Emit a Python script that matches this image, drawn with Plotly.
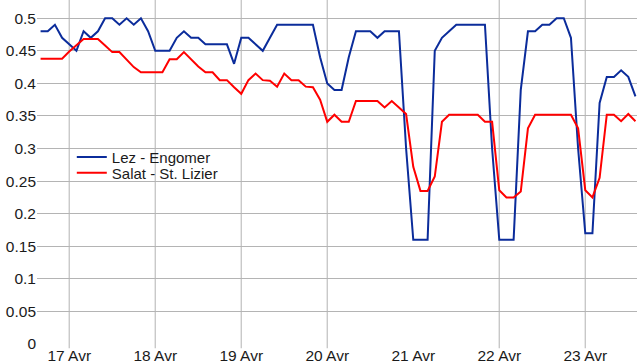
import pandas as pd
import plotly.graph_objects as go

# ---- data -------------------------------------------------------------
start_time = "2013-04-16 16:00"
step = "2h"

lez_engomer = [
    0.48, 0.48, 0.49, 0.47, 0.46, 0.45, 0.48, 0.47, 0.48, 0.50, 0.50, 0.49, 0.50, 0.49,
    0.50, 0.48, 0.45, 0.45, 0.45, 0.47, 0.48, 0.47, 0.47, 0.46, 0.46, 0.46, 0.46, 0.43,
    0.47, 0.47, 0.46, 0.45, 0.47, 0.49, 0.49, 0.49, 0.49, 0.49, 0.49, 0.44, 0.40, 0.39,
    0.39, 0.44, 0.48, 0.48, 0.48, 0.47, 0.48, 0.48, 0.48, 0.30, 0.16, 0.16, 0.16, 0.45,
    0.47, 0.48, 0.49, 0.49, 0.49, 0.49, 0.49, 0.30, 0.16, 0.16, 0.16, 0.39, 0.48, 0.48,
    0.49, 0.49, 0.50, 0.50, 0.47, 0.30, 0.17, 0.17, 0.37, 0.41, 0.41, 0.42, 0.41, 0.38,
]

salat_st_lizier = [
    0.438, 0.438, 0.438, 0.438, 0.449, 0.459, 0.468, 0.468, 0.468, 0.458, 0.448, 0.448, 0.436, 0.425,
    0.417, 0.417, 0.417, 0.417, 0.437, 0.437, 0.448, 0.437, 0.426, 0.417, 0.417, 0.405, 0.405, 0.394,
    0.384, 0.405, 0.415, 0.405, 0.404, 0.395, 0.415, 0.405, 0.405, 0.395, 0.394, 0.375, 0.341, 0.352,
    0.341, 0.341, 0.373, 0.373, 0.373, 0.373, 0.363, 0.373, 0.363, 0.353, 0.272, 0.235, 0.235, 0.257,
    0.341, 0.352, 0.352, 0.352, 0.352, 0.352, 0.341, 0.341, 0.236, 0.225, 0.225, 0.234, 0.331, 0.352,
    0.352, 0.352, 0.352, 0.352, 0.352, 0.331, 0.236, 0.225, 0.255, 0.352, 0.352, 0.342, 0.353, 0.342,
]

series_names = ["Lez - Engomer", "Salat - St. Lizier"]

tick_dates = ["2013-04-17", "2013-04-18", "2013-04-19", "2013-04-20",
              "2013-04-21", "2013-04-22", "2013-04-23"]
tick_labels = ["17 Avr", "18 Avr", "19 Avr", "20 Avr", "21 Avr", "22 Avr", "23 Avr"]
grid_dates = ["2013-04-17", "2013-04-18", "2013-04-19", "2013-04-20",
              "2013-04-22", "2013-04-23"]

y_ticks = [0, 0.05, 0.1, 0.15, 0.2, 0.25, 0.3, 0.35, 0.4, 0.45, 0.5]
y_tick_labels = ["0", "0.05", "0.1", "0.15", "0.2", "0.25", "0.3", "0.35", "0.4", "0.45", "0.5"]

times = pd.date_range(start_time, periods=len(lez_engomer), freq=step)

# ---- figure -----------------------------------------------------------
FONT = "Liberation Sans, Arial, sans-serif"
fig = go.Figure()
fig.add_trace(go.Scatter(x=times, y=lez_engomer, mode="lines", name=series_names[0],
                         line=dict(color="#0b2c9b", width=2), legend="legend"))
fig.add_trace(go.Scatter(x=times, y=salat_st_lizier, mode="lines", name=series_names[1],
                         line=dict(color="#ff0000", width=2), legend="legend2"))

for d in grid_dates:
    fig.add_shape(type="line", xref="x", yref="paper", x0=d, x1=d, y0=-0.012, y1=1,
                  line=dict(color="#c4c4c4", width=1.3), layer="below")

legend_style = dict(xanchor="left", yanchor="top", bgcolor="rgba(0,0,0,0)",
                    font=dict(size=15, color="#1a1a1a"), itemwidth=30)

fig.update_layout(
    width=640, height=363,
    margin=dict(l=37, r=3, t=0, b=19),
    paper_bgcolor="white", plot_bgcolor="white",
    font=dict(family=FONT, size=15, color="#1a1a1a"),
    showlegend=True,
    legend=dict(x=0.058, y=0.591, **legend_style),
    legend2=dict(x=0.058, y=0.545, **legend_style),
    xaxis=dict(range=["2013-04-16 15:00", "2013-04-23 14:26"],
               tickvals=tick_dates, ticktext=tick_labels,
               showgrid=False, zeroline=False, showline=False, ticks="",
               tickfont=dict(size=15.5)),
    yaxis=dict(range=[0, 0.528], tickvals=y_ticks, ticktext=y_tick_labels,
               showgrid=True, gridcolor="#b4b4b4", gridwidth=1.3,
               zeroline=False, showline=False, ticks="",
               tickfont=dict(size=15.5)),
)

fig.write_html("out.html", post_script="document.body.style.margin='0';",
               config={"displayModeBar": False})
